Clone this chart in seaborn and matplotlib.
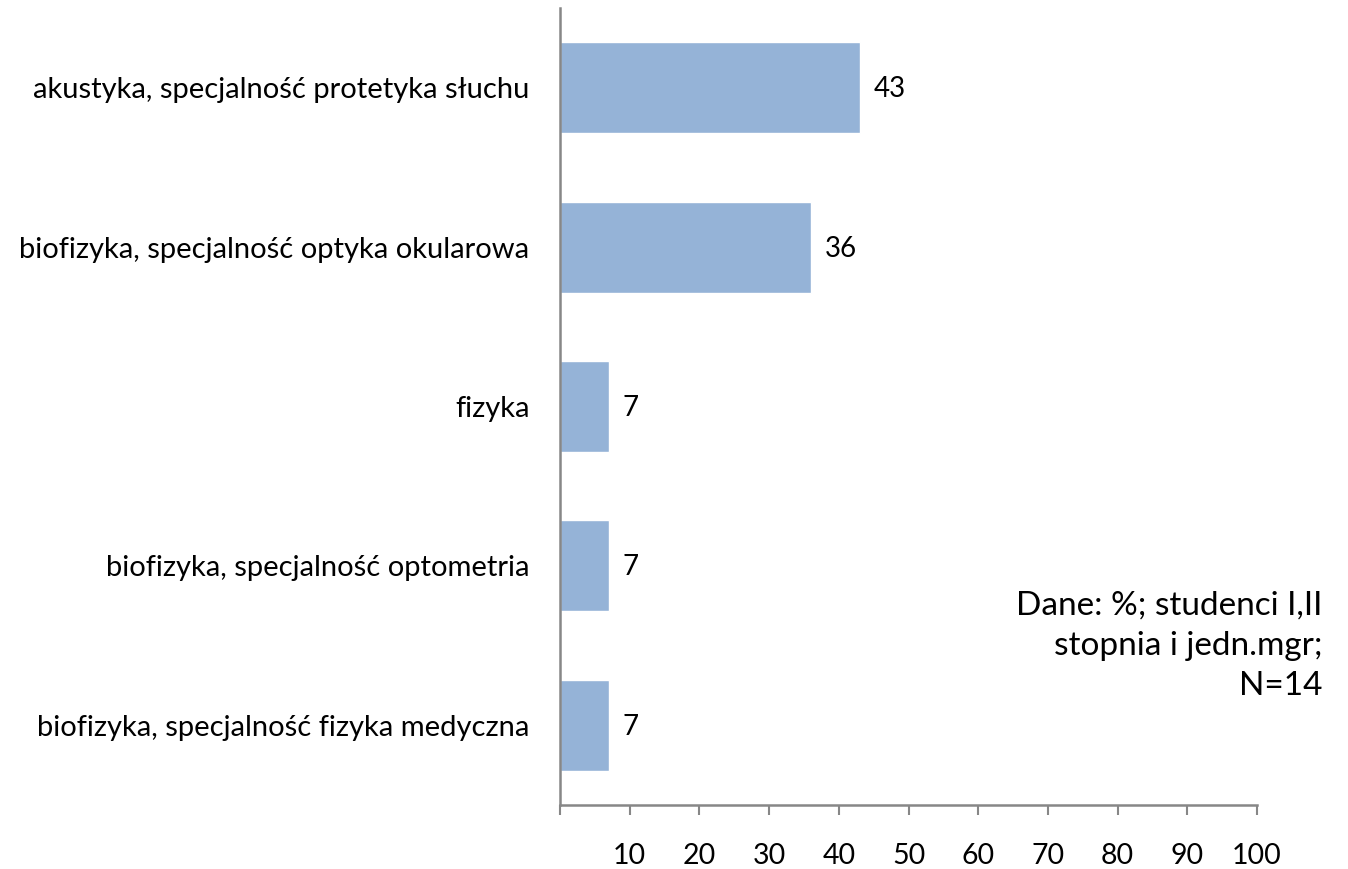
import pandas as pd
import matplotlib.pyplot as plt
import seaborn as sns

sns.set_style('white')
plt.rcParams['font.family'] = ['Lato', 'DejaVu Sans']
plt.rcParams['text.color'] = 'black'
plt.rcParams['xtick.labelcolor'] = 'black'
plt.rcParams['ytick.labelcolor'] = 'black'

# Dane z wykresu
kierunki = [
    'akustyka, specjalność protetyka słuchu',
    'biofizyka, specjalność optyka okularowa',
    'fizyka',
    'biofizyka, specjalność optometria',
    'biofizyka, specjalność fizyka medyczna',
]
procent = [43, 36, 7, 7, 7]
ticki = [0, 10, 20, 30, 40, 50, 60, 70, 80, 90, 100]
etykiety_tickow = [''] + [str(t) for t in ticki[1:]]

df = pd.DataFrame({'kierunek': kierunki, 'procent': procent})

fig = plt.figure(figsize=(13.48, 8.69), dpi=100)
ax = fig.add_axes([560 / 1348, 1 - 805 / 869, 697 / 1348, 797 / 869])

sns.barplot(data=df, y='kierunek', x='procent', orient='h', color='#95B3D7',
            saturation=1, width=0.57, ax=ax)

ax.set_xlim(0, 100)
ax.set_ylim(4.5, -0.5)
ax.set_xticks(ticki)
ax.set_xticklabels(etykiety_tickow, fontsize=20.5)
ax.set_xlabel('')
ax.set_ylabel('')
ax.tick_params(axis='y', length=0, pad=22, labelsize=21)
ax.tick_params(axis='x', direction='out', length=7.5, width=1.5, color='#878787',
               pad=20, bottom=True)

for s in ['top', 'right']:
    ax.spines[s].set_visible(False)
for s in ['left', 'bottom']:
    ax.spines[s].set_color('#878787')
    ax.spines[s].set_linewidth(1.8)

# Wartości przy słupkach
for i, v in enumerate(procent):
    ax.text(v + 2, i + 0.01, str(v), va='center', ha='left', fontsize=20)

fig.text(1322 / 1348, 1 - 646 / 869, 'Dane: %; studenci I,II\nstopnia i jedn.mgr;\nN=14',
         ha='right', va='center', fontsize=24, linespacing=1.42)

fig.savefig('out.png', dpi=100)
